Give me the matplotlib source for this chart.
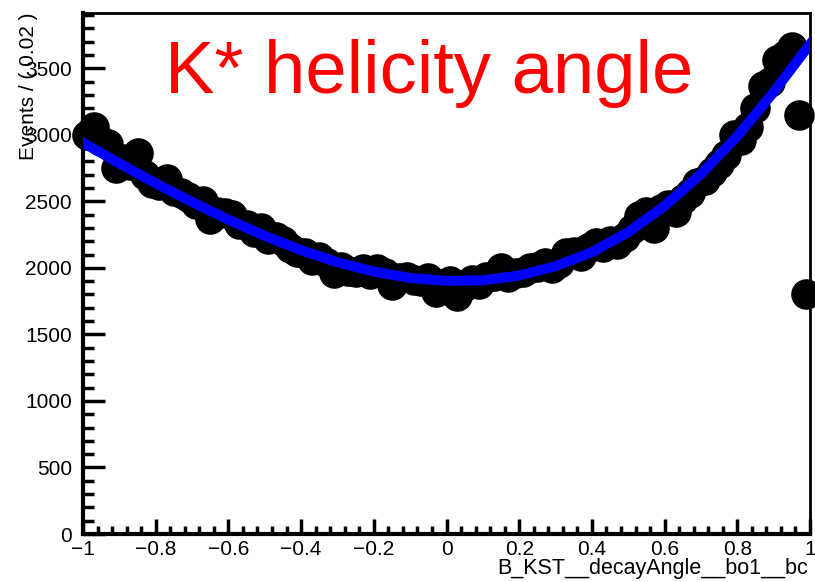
import numpy as np
import matplotlib.pyplot as plt
from matplotlib.ticker import MultipleLocator, FuncFormatter

plt.rcParams['font.family'] = ['Liberation Sans', 'DejaVu Sans']

# binned data, 100 bins of width 0.02 on [-1, 1]
bin_centers = np.arange(-0.99, 1.0, 0.02)
events = [
    3000, 3060, 2950, 2930, 2750, 2820, 2770, 2860, 2700, 2640,
    2620, 2670, 2580, 2560, 2530, 2480, 2500, 2370, 2420, 2410,
    2400, 2330, 2320, 2270, 2300, 2220, 2230, 2200, 2150, 2120,
    2110, 2060, 2080, 2040, 1960, 2010, 1980, 1970, 1990, 1950,
    1990, 1960, 1870, 1920, 1930, 1910, 1900, 1920, 1820, 1880,
    1900, 1790, 1860, 1910, 1880, 1930, 1940, 2000, 1930, 1960,
    1970, 2000, 2010, 2040, 2000, 2040, 2110, 2120, 2090, 2150,
    2190, 2160, 2200, 2180, 2230, 2290, 2390, 2420, 2300, 2440,
    2470, 2420, 2520, 2560, 2640, 2660, 2720, 2780, 2850, 3000,
    2960, 3060, 3200, 3370, 3400, 3560, 3600, 3660, 3150, 1800,
]

# fitted shape
fit_x = [-1.0, -0.9, -0.8, -0.7, -0.6, -0.5, -0.4, -0.3, -0.2, -0.1, 0.0,
         0.1, 0.2, 0.3, 0.4, 0.5, 0.6, 0.7, 0.8, 0.9, 1.0]
fit_y = [2940, 2785, 2635, 2495, 2362, 2240, 2133, 2042, 1972, 1924, 1902,
         1906, 1942, 2012, 2118, 2268, 2465, 2705, 2990, 3320, 3680]

fig = plt.figure(figsize=(8.15, 5.82), dpi=100)
ax = fig.add_axes([83 / 815, 1 - 534 / 582, 727 / 815, 521 / 582])

ax.plot(bin_centers, events, 'o', color='black', markersize=21,
        clip_on=False, zorder=2)
ax.plot(fit_x, fit_y, '-', color='#0000ff', lw=7.2, zorder=3)

ax.set_xlim(-1, 1)
ax.set_ylim(0, 3915)

ax.xaxis.set_major_locator(MultipleLocator(0.2))
ax.xaxis.set_minor_locator(MultipleLocator(0.04))
ax.yaxis.set_major_locator(MultipleLocator(500))
ax.yaxis.set_minor_locator(MultipleLocator(100))
ax.xaxis.set_major_formatter(FuncFormatter(lambda v, p: ('%g' % round(v, 2)).replace('-', '\u2212')))

ax.tick_params(axis='both', which='both', direction='in', top=False, right=False,
               labelsize=15, width=2.5, color='black')
ax.tick_params(axis='x', which='major', length=11, pad=4)
ax.tick_params(axis='x', which='minor', length=6)
ax.tick_params(axis='y', which='major', length=16, pad=8)
ax.tick_params(axis='y', which='minor', length=8)

for side in ['left', 'bottom']:
    ax.spines[side].set_linewidth(3)
for side in ['top', 'right']:
    ax.spines[side].set_linewidth(2)

fig.text(165 / 815, 1 - 93 / 582, 'K* helicity angle', color='red',
         fontsize=53.5, ha='left', va='baseline')
fig.text(29 / 815, 1 - 13 / 582, 'Events / ( 0.02 )', rotation=90,
         fontsize=15, ha='center', va='top')
fig.text(808 / 815, 1 - 574 / 582, 'B_KST__decayAngle__bo1__bc',
         fontsize=15.5, ha='right', va='baseline')

fig.savefig('out.png', dpi=100)
